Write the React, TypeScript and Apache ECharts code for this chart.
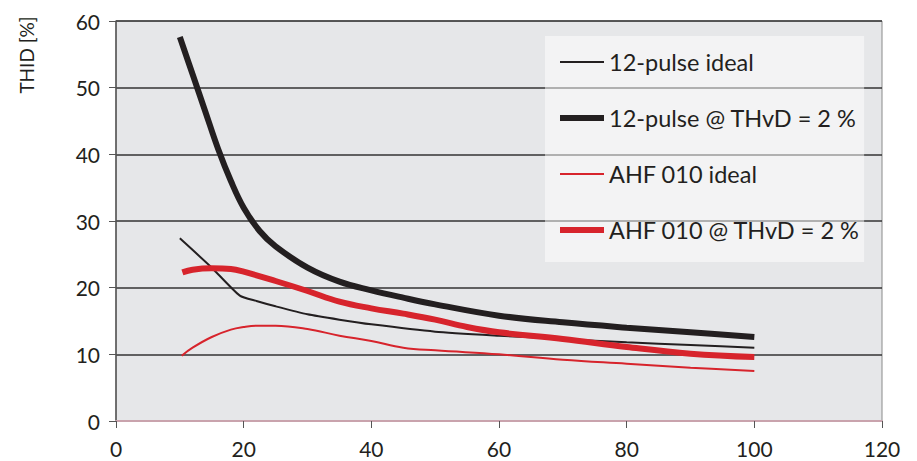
import React, { useEffect, useRef } from "react";
import * as echarts from "echarts";

const xTicks = [0, 20, 40, 60, 80, 100, 120];
const yTicks = [0, 10, 20, 30, 40, 50, 60];

const seriesNames = [
  "12-pulse ideal",
  "12-pulse @ THvD = 2 %",
  "AHF 010 ideal",
  "AHF 010 @ THvD = 2 %",
];

const pulseIdealX = [10, 15, 19.4, 22, 25, 30, 35, 40, 50, 60, 70, 80, 90, 100];
const pulseIdealY = [27.4, 23.0, 18.8, 18.0, 17.2, 16.0, 15.2, 14.5, 13.4, 12.8, 12.3, 11.8, 11.4, 11.0];

const pulseThvdX = [10, 12, 14, 16, 18, 20, 22.5, 25, 30, 35, 40, 45, 50, 60, 70, 80, 90, 100];
const pulseThvdY = [57.6, 52.0, 46.4, 40.8, 36.0, 32.0, 28.5, 26.2, 23.0, 20.9, 19.6, 18.5, 17.5, 15.8, 14.8, 14.0, 13.3, 12.6];

const ahfIdealX = [10.3, 12, 15, 18, 20, 22, 25, 30, 35, 40, 45, 50, 60, 70, 80, 90, 100];
const ahfIdealY = [9.8, 11.0, 12.6, 13.7, 14.1, 14.3, 14.3, 13.8, 12.8, 12.0, 11.0, 10.6, 10.0, 9.2, 8.6, 8.0, 7.5];

const ahfThvdX = [10.4, 12, 15, 18, 20, 25, 30, 35, 40, 45, 50, 55, 60, 70, 80, 90, 100];
const ahfThvdY = [22.3, 22.7, 22.9, 22.8, 22.4, 21.0, 19.5, 17.9, 16.9, 16.1, 15.2, 14.1, 13.3, 12.3, 11.1, 10.1, 9.6];

const BLACK = "#231f20";
const RED = "#d7242c";
const FONT = "Lato";

function pairs(xs: number[], ys: number[]) {
  return xs.map((x, i) => [x, ys[i]]);
}

export default function App() {
  const ref = useRef<HTMLDivElement>(null);
  useEffect(() => {
    if (!ref.current) return;
    const chart = echarts.init(ref.current, undefined, { renderer: "svg" });
    const widths = [2, 6, 2, 6];
    const colors = [BLACK, BLACK, RED, RED];
    const datas = [
      pairs(pulseIdealX, pulseIdealY),
      pairs(pulseThvdX, pulseThvdY),
      pairs(ahfIdealX, ahfIdealY),
      pairs(ahfThvdX, ahfThvdY),
    ];
    chart.setOption({
      animation: false,
      backgroundColor: "#ffffff",
      textStyle: { fontFamily: FONT, color: BLACK },
      grid: {
        left: 116,
        top: 21,
        width: 766,
        height: 400,
        show: true,
        backgroundColor: "#e6e7e9",
        borderColor: "#8a8a8a",
        borderWidth: 1,
      },
      xAxis: {
        type: "value",
        min: xTicks[0],
        max: xTicks[xTicks.length - 1],
        interval: 20,
        axisLine: { show: true, lineStyle: { color: "#c9a3ad", width: 2 } },
        axisTick: { show: true, length: 7, lineStyle: { color: "#555", width: 1 } },
        axisLabel: { fontSize: 21, color: BLACK, margin: 17, fontFamily: FONT },
        splitLine: { show: false },
      },
      yAxis: {
        type: "value",
        min: yTicks[0],
        max: yTicks[yTicks.length - 1],
        interval: 10,
        axisLine: { show: true, lineStyle: { color: "#555", width: 1.5 } },
        axisTick: { show: true, length: 7, lineStyle: { color: "#555", width: 1 } },
        axisLabel: { fontSize: 21, color: BLACK, margin: 16, fontFamily: FONT },
        splitLine: { show: true, lineStyle: { color: "#333", width: 1.5 } },
      },
      legend: {
        orient: "vertical",
        left: 545,
        top: 36,
        padding: [14, 4, 20, 12],
        itemWidth: 44,
        itemHeight: 14,
        itemGap: 32,
        backgroundColor: "rgba(255,255,255,0.5)",
        textStyle: { fontSize: 23.5, color: BLACK, fontFamily: FONT },
        itemStyle: { color: "transparent", borderWidth: 0, opacity: 0 },
        data: seriesNames.map((n, i) => ({
          name: n,
          itemStyle: { color: "transparent", borderWidth: 0, opacity: 0 },
          lineStyle: { width: widths[i], color: colors[i], opacity: 1 },
        })),
      },
      graphic: [
        {
          type: "text",
          x: 26,
          y: 55,
          rotation: Math.PI / 2,
          style: {
            text: "THID [%]",
            fontSize: 19,
            fontFamily: FONT,
            fill: BLACK,
            textAlign: "center",
            textVerticalAlign: "middle",
          },
        },
      ],
      series: seriesNames.map((n, i) => ({
        name: n,
        type: "line",
        data: datas[i],
        smooth: i === 0 ? 0.2 : 0.4,
        symbol: "none",
        showSymbol: false,
        lineStyle: { color: colors[i], width: widths[i] },
        itemStyle: { color: colors[i] },
      })),
    });
    return () => chart.dispose();
  }, []);
  return (
    <div
      ref={ref}
      style={{ position: "fixed", left: 0, top: 0, width: 917, height: 461 }}
    />
  );
}
